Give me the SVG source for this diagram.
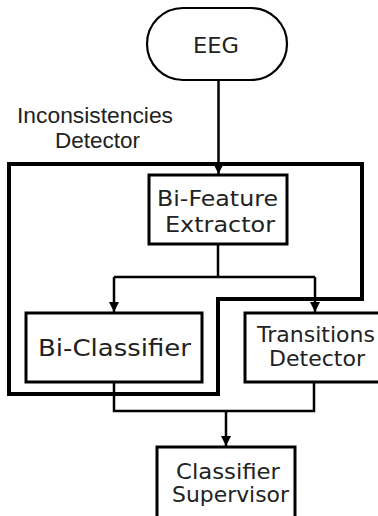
<svg xmlns="http://www.w3.org/2000/svg" width="378" height="516" viewBox="0 0 378 516">
<defs>
<style>
.box{fill:#fff;stroke:#000;stroke-width:3}
.outer{fill:none;stroke:#000;stroke-width:4}
.con{fill:none;stroke:#000;stroke-width:2.5}
.lbl{font-family:Verdana,"DejaVu Sans",sans-serif;font-size:21.5px;fill:#222;text-anchor:middle}
.grp{font-family:"Liberation Sans",Arial,sans-serif;font-size:22px;fill:#222;text-anchor:middle}
</style>
<marker id="ah" viewBox="0 0 10 10" refX="10" refY="5" markerWidth="10" markerHeight="10" markerUnits="userSpaceOnUse" orient="auto">
<path d="M0,0 L10,5 L0,10 Z" fill="#000"/>
</marker>
</defs>
<rect width="378" height="516" fill="#fff"/>
<g id="inconsistencies-detector">
<path class="outer" d="M9,164 H362 V299 H218 V394 H9 Z"/>
<text class="grp" x="95" y="123" textLength="156" lengthAdjust="spacingAndGlyphs">Inconsistencies</text>
<text class="grp" x="97.5" y="148" textLength="85" lengthAdjust="spacingAndGlyphs">Detector</text>
</g>
<g id="connectors">
<path class="con" d="M218.5,80 V174" marker-end="url(#ah)"/>
<path class="con" d="M218,244 V277"/>
<path class="con" d="M114,277 H315"/>
<path class="con" d="M114,277 V312" marker-end="url(#ah)"/>
<path class="con" d="M315,277 V312" marker-end="url(#ah)"/>
<path class="con" d="M114,382 V411 H314 V382"/>
<path class="con" d="M226,411 V446" marker-end="url(#ah)"/>
</g>
<g id="eeg">
<rect x="147" y="8" width="140" height="72" rx="36" ry="36" fill="#fff" stroke="#000" stroke-width="2.2"/>
<text class="lbl" x="216" y="53" textLength="46" lengthAdjust="spacingAndGlyphs">EEG</text>
</g>
<g id="bi-feature-extractor">
<rect class="box" x="149" y="175" width="138" height="69"/>
<text class="lbl" x="217.5" y="206" textLength="121" lengthAdjust="spacingAndGlyphs">Bi-Feature</text>
<text class="lbl" x="220" y="232" textLength="110" lengthAdjust="spacingAndGlyphs">Extractor</text>
</g>
<g id="bi-classifier">
<rect class="box" x="26" y="313" width="176" height="69"/>
<text class="lbl" x="114.5" y="356" style="font-size:23.5px" textLength="153" lengthAdjust="spacingAndGlyphs">Bi-Classifier</text>
</g>
<g id="transitions-detector">
<rect class="box" x="245" y="313" width="140" height="69"/>
<text class="lbl" x="316" y="342" textLength="118" lengthAdjust="spacingAndGlyphs">Transitions</text>
<text class="lbl" x="317" y="366" textLength="96" lengthAdjust="spacingAndGlyphs">Detector</text>
</g>
<g id="classifier-supervisor">
<rect class="box" x="157" y="447" width="138" height="75"/>
<text class="lbl" x="228" y="479" textLength="104" lengthAdjust="spacingAndGlyphs">Classifier</text>
<text class="lbl" x="230.5" y="502" textLength="117" lengthAdjust="spacingAndGlyphs">Supervisor</text>
</g>
</svg>
